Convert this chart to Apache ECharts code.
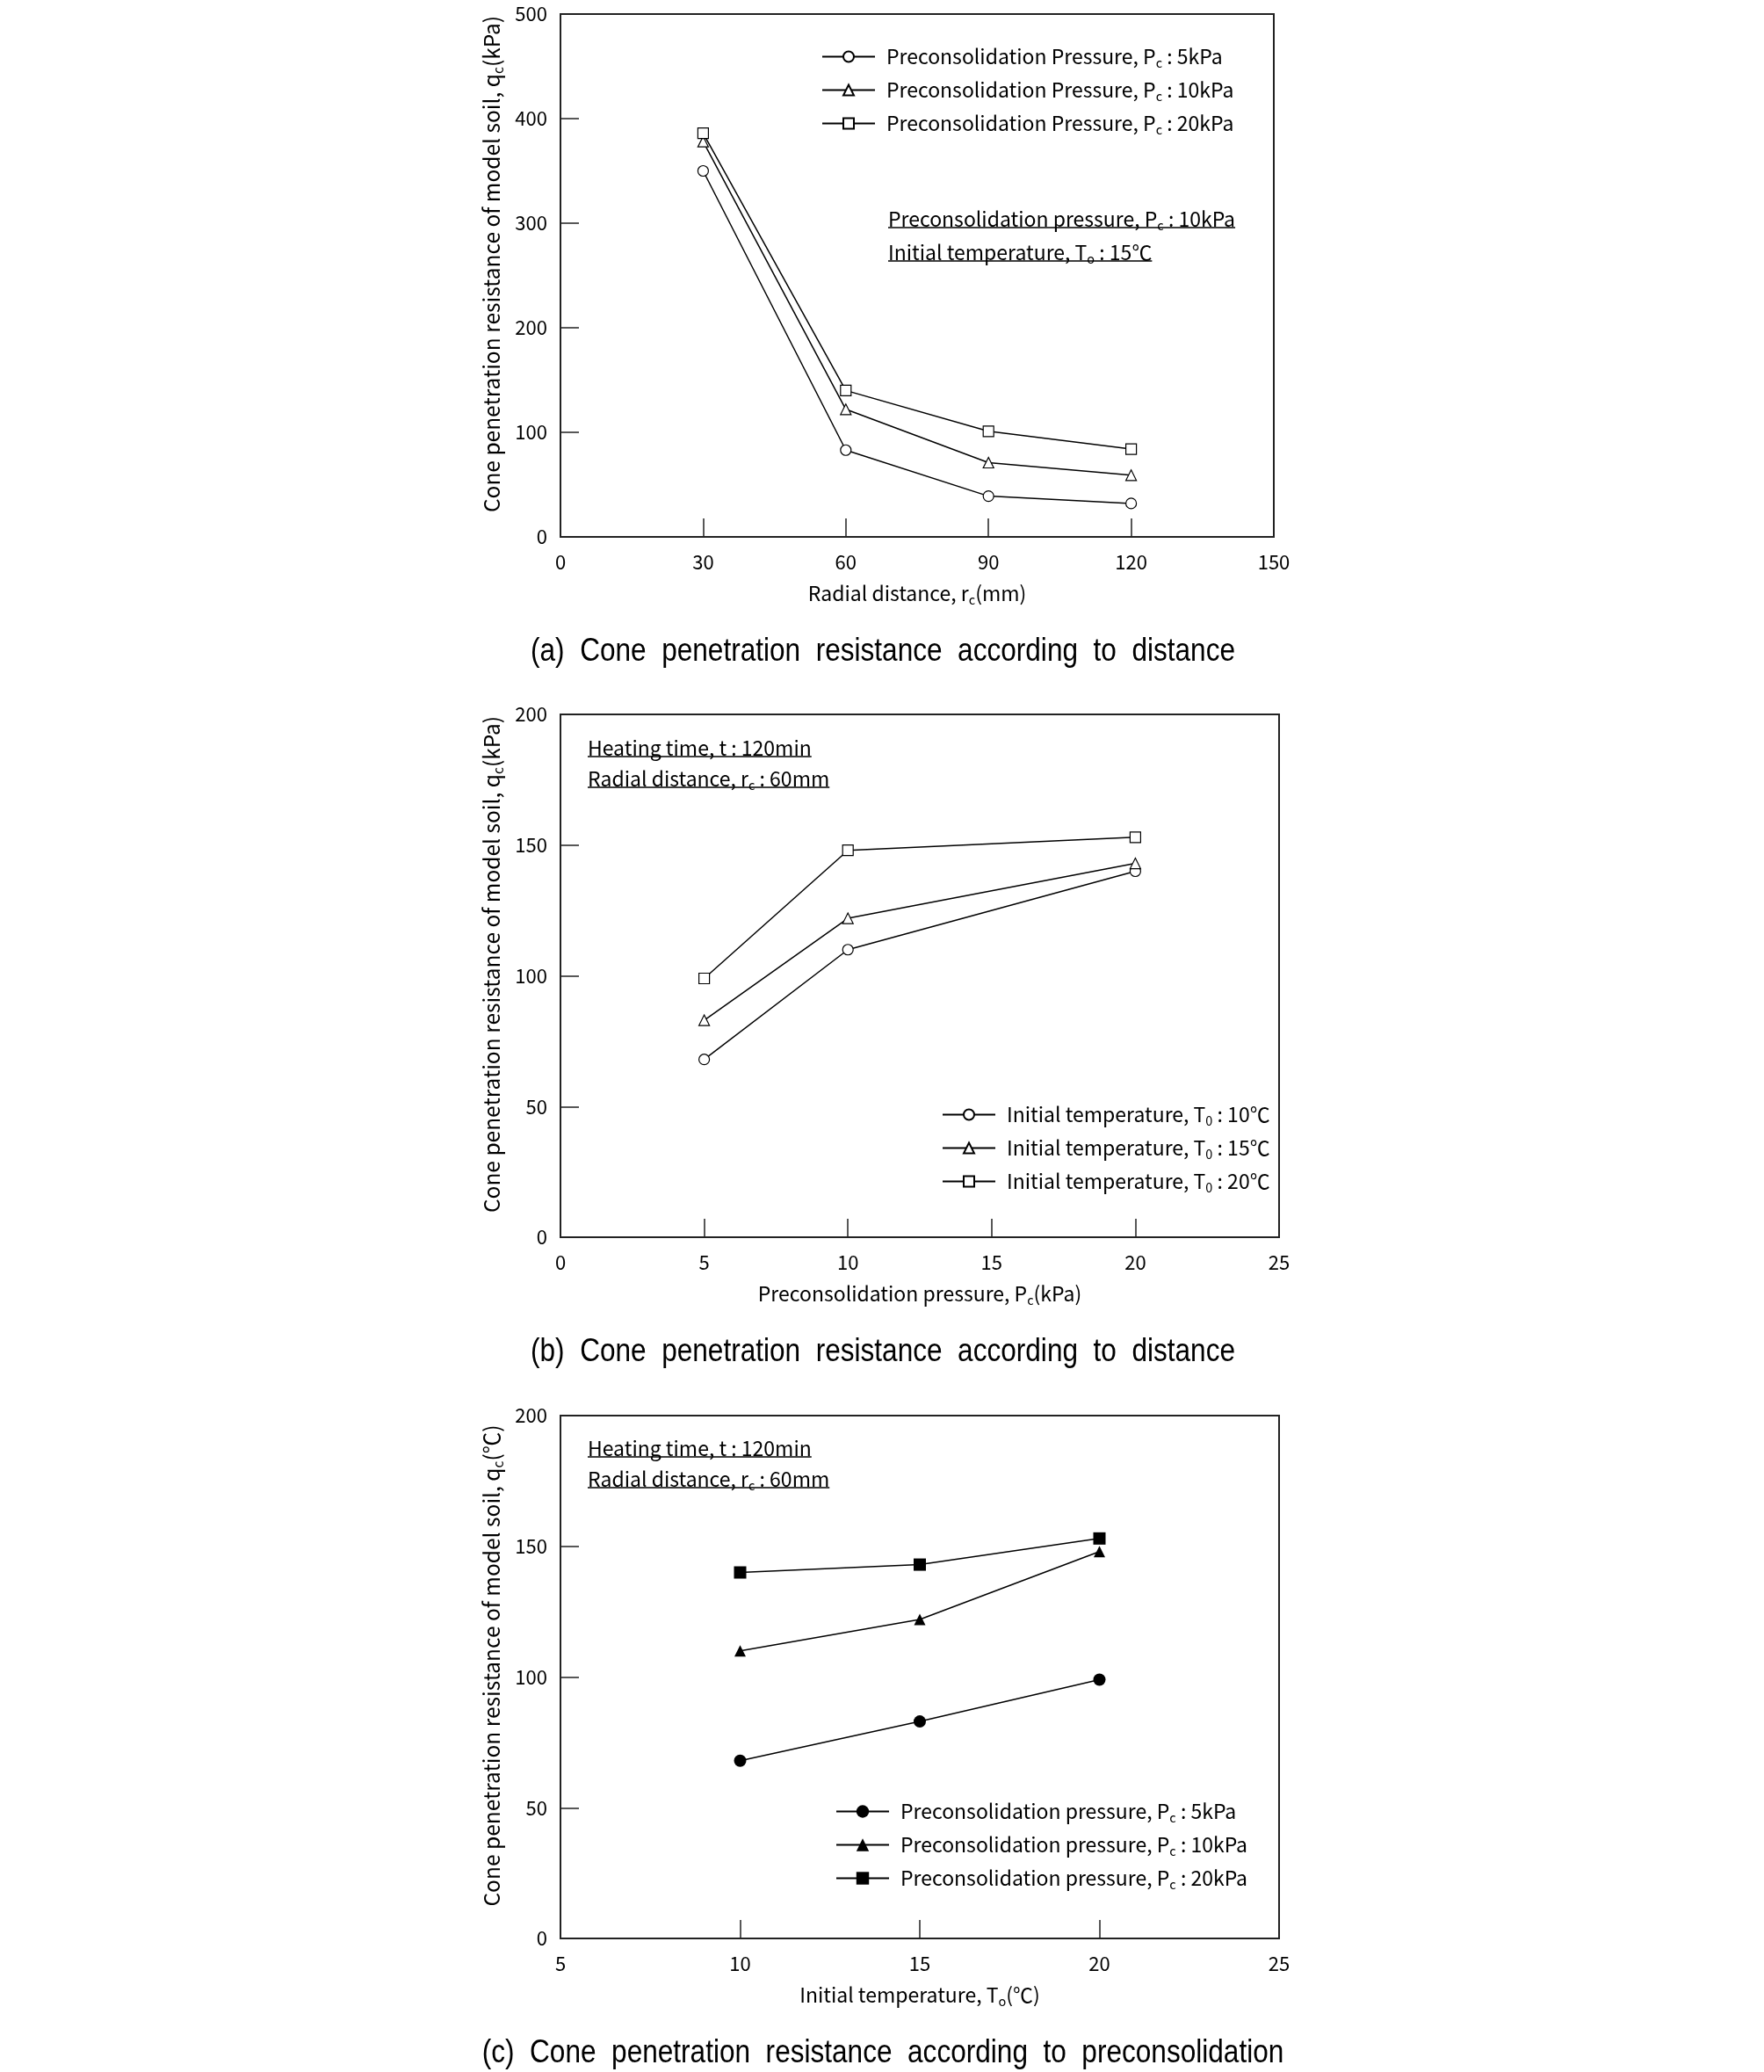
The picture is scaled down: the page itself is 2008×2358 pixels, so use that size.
<!DOCTYPE html>
<html>
<head>
<meta charset="utf-8">
<script src="https://cdn.jsdelivr.net/npm/echarts@6/dist/echarts.min.js"></script>
<style>
  html, body { margin: 0; padding: 0; background: #fff; }
  #chart { width: 2008px; height: 2358px; }
</style>
</head>
<body>
<div id="chart"></div>
<script>
// (a) resistance vs radial distance
const radialDist = [30, 60, 90, 120];
const qcDistPc5 = [350, 83, 39, 32];
const qcDistPc10 = [378, 122, 71, 59];
const qcDistPc20 = [386, 140, 101, 84];

// (b) resistance vs preconsolidation pressure
const preconPressure = [5, 10, 20];
const qcPresT10 = [68, 110, 140];
const qcPresT15 = [83, 122, 143];
const qcPresT20 = [99, 148, 153];

// (c) resistance vs initial temperature
const initTemp = [10, 15, 20];
const qcTempPc5 = [68, 83, 99];
const qcTempPc10 = [110, 122, 148];
const qcTempPc20 = [140, 143, 153];

const FONT = '"Noto Sans CJK KR", "Noto Sans", sans-serif';
const CAP_FONT = '"Liberation Sans", Arial, sans-serif';
const BASE = 23, SUB = 14.5;

function makeRich(base, sub, lh) {
  return {
    t: { fontSize: base, fontFamily: FONT, color: '#000', fill: '#000', lineHeight: lh },
    f: { fontSize: base, fontFamily: FONT, color: '#000', fill: '#000', lineHeight: lh, padding: [0, 0, 0, 8] },
    s: { fontSize: sub, fontFamily: FONT, color: '#000', fill: '#000', lineHeight: lh, verticalAlign: 'bottom' }
  };
}
const rich = makeRich(BASE, SUB, 29);
const richY = makeRich(24.5, 15.5, 31);

// "P_c" -> P with subscript c
function toRich(str, first) {
  let out = '';
  str.split(/_(.)/).forEach((p, i) => {
    if (!p) return;
    const key = i % 2 ? 's' : (i === 0 && first ? 'f' : 't');
    out += '{' + key + '|' + p + '}';
  });
  return out;
}

const ctx = document.createElement('canvas').getContext('2d');
function measure(str) {
  let w = 0;
  str.split(/_(.)/).forEach((p, i) => {
    if (!p) return;
    ctx.font = (i % 2 ? SUB : BASE) + 'px ' + FONT;
    w += ctx.measureText(p).width;
  });
  return w;
}

function zip(xs, ys) { return xs.map((x, i) => [x, ys[i]]); }

const namesA = ['Preconsolidation Pressure, P_c : 5kPa', 'Preconsolidation Pressure, P_c : 10kPa', 'Preconsolidation Pressure, P_c : 20kPa'];
const namesB = ['Initial temperature, T_0 : 10℃', 'Initial temperature, T_0 : 15℃', 'Initial temperature, T_0 : 20℃'];
const namesC = ['Preconsolidation pressure, P_c : 5kPa', 'Preconsolidation pressure, P_c : 10kPa', 'Preconsolidation pressure, P_c : 20kPa'];

const captions = [
  '(a)  Cone  penetration  resistance  according  to  distance',
  '(b)  Cone  penetration  resistance  according  to  distance',
  '(c)  Cone  penetration  resistance  according  to  preconsolidation'
];

const grids = [
  { left: 638, top: 16, width: 812, height: 595 },
  { left: 638, top: 813, width: 818, height: 595 },
  { left: 638, top: 1611, width: 818, height: 595 }
];

function xAx(idx, min, max, interval, name) {
  return {
    type: 'value', gridIndex: idx, min, max, interval,
    name: toRich(name), nameLocation: 'middle', nameGap: 50,
    nameTextStyle: { rich },
    axisLine: { lineStyle: { color: '#222', width: 2 } },
    axisTick: { inside: true, length: 21, lineStyle: { color: '#222', width: 1.5 } },
    axisLabel: { margin: 18, color: '#000', fontSize: 22, fontFamily: FONT },
    splitLine: { show: false }
  };
}
function yAx(idx, max, interval, name) {
  return {
    type: 'value', gridIndex: idx, min: 0, max, interval,
    name: toRich(name), nameLocation: 'middle', nameGap: 63, nameRotate: 90,
    nameTextStyle: { rich: richY, padding: [0, 0, 0, 26] },
    axisLine: { lineStyle: { color: '#222', width: 2 } },
    axisTick: { inside: true, length: 21, lineStyle: { color: '#222', width: 1.5 } },
    axisLabel: { margin: 15, color: '#000', fontSize: 22, fontFamily: FONT },
    splitLine: { show: false }
  };
}

function line(name, idx, data, symbol, size, filled) {
  return {
    type: 'line', name, xAxisIndex: idx, yAxisIndex: idx, data,
    symbol, symbolSize: size, z: 3,
    lineStyle: { color: '#000', width: 1.5 },
    itemStyle: filled ? { color: '#000' } : { color: '#fff', borderColor: '#000', borderWidth: 1.2 }
  };
}

function legend(names, left, top, itemHeight) {
  return {
    data: names, orient: 'vertical', left, top, padding: 0,
    itemWidth: 60, itemHeight, itemGap: 9, selectedMode: false,
    formatter: n => toRich(n, true),
    textStyle: { rich, lineHeight: 29 }
  };
}

function note(x, y, str) {
  return [
    { type: 'text', x, y, style: { text: toRich(str), rich, align: 'left', verticalAlign: 'middle' } },
    { type: 'line', shape: { x1: x, y1: y + 10, x2: x + measure(str), y2: y + 10 }, style: { stroke: '#000', lineWidth: 1.5 } }
  ];
}

// caption font is a narrow sans; squeeze a regular one to the reference width
ctx.font = '37px ' + CAP_FONT;
const capScale = 802 / ctx.measureText(captions[0]).width;
function caption(y, str) {
  return {
    type: 'text', x: 1005, y, scaleX: capScale,
    style: { text: str, fontSize: 37, fontFamily: CAP_FONT, fill: '#000', align: 'center', verticalAlign: 'middle' }
  };
}

const chart = echarts.init(document.getElementById('chart'));
chart.setOption({
  animation: false,
  backgroundColor: '#fff',
  grid: grids.map(g => Object.assign({ show: true, borderColor: '#222', borderWidth: 2, backgroundColor: 'transparent' }, g)),
  xAxis: [
    xAx(0, 0, 150, 30, 'Radial distance, r_c(mm)'),
    xAx(1, 0, 25, 5, 'Preconsolidation pressure, P_c(kPa)'),
    xAx(2, 5, 25, 5, 'Initial temperature, T_o(℃)')
  ],
  yAxis: [
    yAx(0, 500, 100, 'Cone penetration resistance of model soil, q_c(kPa)'),
    yAx(1, 200, 50, 'Cone penetration resistance of model soil, q_c(kPa)'),
    yAx(2, 200, 50, 'Cone penetration resistance of model soil, q_c(℃)')
  ],
  legend: [
    legend(namesA, 935, 50, 15),
    legend(namesB, 1072, 1254, 15),
    legend(namesC, 951, 2047, 18)
  ],
  series: [
    line(namesA[0], 0, zip(radialDist, qcDistPc5), 'circle', 12, false),
    line(namesA[1], 0, zip(radialDist, qcDistPc10), 'triangle', 12, false),
    line(namesA[2], 0, zip(radialDist, qcDistPc20), 'rect', 12, false),
    line(namesB[0], 1, zip(preconPressure, qcPresT10), 'circle', 12, false),
    line(namesB[1], 1, zip(preconPressure, qcPresT15), 'triangle', 12, false),
    line(namesB[2], 1, zip(preconPressure, qcPresT20), 'rect', 12, false),
    line(namesC[0], 2, zip(initTemp, qcTempPc5), 'circle', 14, true),
    line(namesC[1], 2, zip(initTemp, qcTempPc10), 'triangle', 13, true),
    line(namesC[2], 2, zip(initTemp, qcTempPc20), 'rect', 14, true)
  ],
  graphic: [].concat(
    note(1011, 249, 'Preconsolidation pressure, P_c : 10kPa'),
    note(1011, 287, 'Initial temperature, T_o : 15℃'),
    note(669, 851, 'Heating time, t : 120min'),
    note(669, 886, 'Radial distance, r_c : 60mm'),
    note(669, 1648, 'Heating time, t : 120min'),
    note(669, 1683, 'Radial distance, r_c : 60mm'),
    [
      caption(742, captions[0]),
      caption(1539, captions[1]),
      caption(2337, captions[2])
    ]
  )
});
</script>
</body>
</html>
